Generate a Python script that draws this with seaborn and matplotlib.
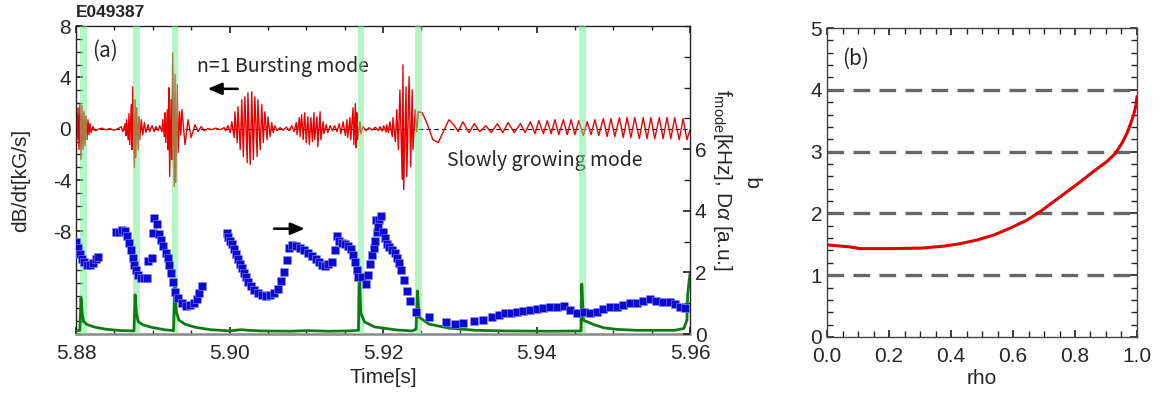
import numpy as np
import pandas as pd
import matplotlib
matplotlib.use("Agg")
import matplotlib.pyplot as plt
import seaborn as sns
from matplotlib.ticker import FixedLocator, MultipleLocator, FormatStrFormatter

# ---------------- data ----------------
T0 = 5.88  # s, time origin of the ms offsets below

# dB/dt trace (ms after T0, kG/s)
red_points = [
    (0.0, 0.86), (0.13, -0.86), (0.26, 1.63), (0.39, -1.63), (0.52, 1.95), (0.65, -2.41), (0.78, 1.79),
    (0.91, -1.63), (1.04, 1.32), (1.17, -1.32), (1.30, 1.01), (1.43, -0.86), (1.56, 0.70), (1.69, -0.47),
    (1.82, 0.39), (1.95, -0.31), (2.2, 0.16), (2.5, -0.16),
    (2.9, -0.04), (3.4, 0.04), (3.9, -0.08), (4.4, 0.0), (5.0, -0.12), (5.5, 0.0), (5.9, 0.16), (6.1, -0.23),
    (6.4, 0.39), (6.5, -0.55), (6.6, 0.70), (6.8, -0.86), (6.9, 1.17), (7.0, -1.24), (7.2, 1.87), (7.3, -1.63),
    (7.4, 3.27), (7.6, -3.03), (7.7, 2.26), (7.8, -2.26), (7.9, 1.63), (8.1, -1.63), (8.2, 0.93), (8.3, -0.86),
    (8.5, 0.70), (8.7, -0.47), (8.9, 0.47), (9.1, -0.31), (9.4, 0.31), (9.6, -0.23), (9.9, 0.23), (10.2, -0.23),
    (10.4, 0.16), (10.7, -0.16), (10.9, 0.23), (11.2, -0.23),
    (11.3, 0.70), (11.5, -0.62), (11.6, 1.24), (11.7, -1.09), (11.9, 1.48), (12.0, -1.63), (12.1, 3.19),
    (12.2, -3.73), (12.4, 2.26), (12.5, -2.41), (12.6, 5.91), (12.8, -4.51), (12.9, 4.20), (13.0, -4.20),
    (13.2, 3.42), (13.3, -1.87), (13.5, 1.32), (13.65, -0.5), (13.8, 1.48), (14.2, -1.24), (14.6, 0.70),
    (15.0, -0.70), (15.5, 0.31), (15.9, -0.23), (16.3, 0.16), (16.7, -0.16),
    (17.2, 0.0), (17.7, -0.08), (18.2, 0.04), (18.8, -0.08), (19.3, 0.08), (19.5, -0.16),
    (19.8, 0.23), (20.1, -0.31), (20.3, 0.54), (20.6, -0.70), (20.7, 1.32), (21.0, -1.09), (21.1, 1.71),
    (21.4, -1.63), (21.6, 2.26), (21.8, -2.18), (22.0, 2.49), (22.3, -2.65), (22.4, 2.80), (22.7, -2.80),
    (22.9, 2.88), (23.1, -2.41), (23.3, 2.49), (23.6, -2.18), (23.7, 2.26), (24.0, -1.63), (24.2, 1.87),
    (24.4, -1.09), (24.6, 1.32), (24.9, -0.86), (25.0, 0.93), (25.3, -0.62), (25.5, 0.47), (25.7, -0.31),
    (25.9, 0.23), (26.2, -0.16),
    (26.6, 0.08), (27.0, -0.12), (27.4, 0.12), (27.8, -0.16), (28.1, 0.23), (28.4, -0.23),
    (28.7, 0.47), (28.8, -0.47), (29.1, 0.86), (29.2, -0.62), (29.4, 1.09), (29.6, -0.86), (29.8, 1.24),
    (30.0, -1.09), (30.2, 0.93), (30.4, -1.24), (30.6, 0.86), (30.8, -1.01), (31.0, 1.24), (31.1, -0.86),
    (31.4, 0.93), (31.5, -1.40), (31.8, 1.32), (31.9, -0.86), (32.2, 0.54), (32.3, -0.39), (32.6, 0.31),
    (32.8, -0.31), (33.1, 0.23), (33.4, -0.16),
    (33.7, 0.23), (34.0, -0.23), (34.3, 0.39), (34.5, -0.39), (34.8, 0.54), (35.1, -0.54), (35.3, 0.70),
    (35.4, -0.70), (35.7, 0.86), (35.8, -0.86), (36.1, 1.63), (36.2, -1.24), (36.4, 1.95), (36.5, -1.48),
    (36.6, 1.24), (36.7, -0.86), (37.0, 0.54), (37.1, -0.39), (37.4, 0.16),
    (37.8, -0.16), (38.2, 0.08), (38.6, -0.12), (39.0, 0.12), (39.4, -0.16), (39.6, 0.16), (39.9, -0.19),
    (40.1, 0.23), (40.4, -0.27),
    (40.5, 0.31), (40.7, -0.31), (40.9, 0.54), (41.2, -0.62), (41.3, 0.86), (41.6, -1.01), (41.8, 1.48),
    (42.0, -1.63), (42.2, 3.03), (42.5, -3.97), (42.6, 4.98), (42.7, -4.75), (43.0, 3.27), (43.1, -3.73),
    (43.4, 4.05), (43.6, -2.96), (43.8, 3.03), (43.9, -1.63), (44.2, 1.48), (44.4, -0.23),
    (44.6, 1.32), (45.1, 1.24), (45.7, 0.47), (46.5, -0.86), (47.2, -1.09), (47.8, -0.31), (48.6, 0.70),
    (49.3, 0.23), (49.8, -0.23), (50.4, 0.54), (51.2, -0.31), (51.9, 0.39), (52.6, -0.23), (53.4, 0.23),
    (54.1, -0.31), (54.9, 0.39), (55.6, -0.31), (56.3, 0.47), (57.1, -0.31), (57.9, 0.39), (58.5, -0.31),
    (59.2, 0.54), (59.8, -0.39), (60.3, 0.62), (60.9, -0.39), (61.4, 0.62), (61.9, -0.39), (62.4, 0.70),
    (62.9, -0.47), (63.5, 0.70), (64.0, -0.47), (64.5, 0.70), (65.0, -0.47), (65.5, 0.62), (66.1, -0.54),
    (66.6, 0.54), (67.1, -0.47), (67.6, 0.70), (68.1, -0.54), (68.7, 0.78), (69.2, -0.62), (69.7, 0.78),
    (70.2, -0.62), (70.8, 0.86), (71.3, -0.70), (71.8, 0.86), (72.3, -0.70), (72.8, 0.86), (73.4, -0.78),
    (73.9, 0.86), (74.4, -0.78), (74.9, 0.86), (75.4, -0.78), (76.0, 0.86), (76.5, -0.78), (77.0, 0.86),
    (77.5, -0.78), (78.0, 0.86), (78.6, -0.86), (79.1, 0.78), (79.6, -0.86), (80.0, -0.08),
]

# mode frequency (ms after T0, kHz)
freq_points = [
    (0.0, 2.99), (0.26, 2.79), (0.52, 2.60), (0.78, 2.44), (1.04, 2.34), (1.43, 2.24), (1.82, 2.24),
    (2.2, 2.31), (2.6, 2.44), (2.9, 2.50),
    (5.2, 3.31), (5.6, 3.31), (6.0, 3.38), (6.4, 3.34), (6.6, 3.18), (6.9, 2.95), (7.2, 2.73), (7.4, 2.47),
    (7.6, 2.24), (7.8, 2.08), (8.1, 1.92), (8.5, 1.82), (8.9, 1.82), (9.3, 1.82),
    (9.4, 2.37), (9.9, 2.47),
    (10.0, 3.28), (10.2, 3.77), (10.6, 3.57), (10.8, 3.25), (11.1, 3.05), (11.3, 2.86), (11.7, 2.63),
    (12.0, 2.47), (12.1, 2.24), (12.4, 1.98), (12.6, 1.69), (12.9, 1.36), (13.3, 1.17), (13.8, 1.01),
    (14.3, 0.91), (14.9, 0.94), (15.4, 1.01), (15.8, 1.14), (16.0, 1.33), (16.4, 1.56),
    (19.7, 3.28), (19.8, 3.15), (20.1, 3.02), (20.3, 2.92), (20.6, 2.76), (20.8, 2.60), (21.1, 2.44),
    (21.4, 2.27), (21.6, 2.14), (21.9, 1.98), (22.2, 1.85), (22.4, 1.69), (22.8, 1.56), (23.2, 1.43),
    (23.7, 1.33), (24.2, 1.27), (24.8, 1.23), (25.3, 1.27), (25.8, 1.33), (26.3, 1.46), (26.7, 1.72),
    (27.1, 2.01), (27.5, 2.40), (27.8, 2.79), (28.1, 2.89), (28.7, 2.86), (29.2, 2.79), (29.7, 2.73),
    (30.2, 2.63), (30.8, 2.53), (31.3, 2.44), (31.7, 2.34), (32.1, 2.24), (32.5, 2.21), (32.8, 2.27),
    (33.4, 2.34), (33.7, 2.73), (34.0, 3.18), (34.3, 3.02), (34.7, 2.95), (35.1, 2.92), (35.4, 2.86),
    (35.8, 2.76), (36.1, 2.56), (36.4, 2.34), (36.6, 2.08), (36.7, 1.85),
    (37.3, 1.85), (37.8, 1.62), (38.0, 1.92), (38.3, 2.27), (38.6, 2.56), (38.8, 2.79), (39.0, 3.02),
    (39.2, 3.31), (39.1, 3.70), (39.5, 3.70), (39.7, 3.83), (39.3, 3.47), (40.0, 3.31), (40.3, 3.12),
    (40.5, 2.92), (40.8, 2.82), (41.2, 2.73), (41.6, 2.63), (41.8, 2.47), (42.1, 2.31), (42.3, 2.08),
    (42.7, 1.75), (43.1, 1.40), (43.5, 1.07), (44.3, 0.71), (46.0, 0.55), (48.2, 0.39), (49.4, 0.32),
    (50.4, 0.36), (51.9, 0.42), (53.0, 0.45), (54.2, 0.55), (55.1, 0.62), (55.9, 0.68), (56.7, 0.68),
    (57.5, 0.71), (58.2, 0.75), (59.2, 0.78), (60.1, 0.81), (60.9, 0.84), (61.8, 0.88), (62.7, 0.88),
    (63.6, 0.91), (64.4, 0.78), (65.3, 0.68), (66.2, 0.71), (67.0, 0.68), (67.9, 0.71), (68.7, 0.81),
    (69.6, 0.88), (70.5, 0.88), (71.3, 0.94), (72.2, 1.01), (73.1, 1.01), (73.9, 1.07), (74.8, 1.14),
    (75.6, 1.07), (76.5, 1.04), (77.4, 1.04), (78.0, 0.97), (78.7, 0.88), (79.4, 0.84),
]

# D-alpha trace (ms after T0, a.u.)
dalpha_points = [
    (0.0, 0.10), (0.5, 0.12), (0.65, 1.17), (0.8, 0.65), (1.0, 0.40), (1.5, 0.30), (2.5, 0.22), (4.0, 0.15),
    (6.0, 0.11), (7.55, 0.10), (7.7, 1.27), (7.85, 0.70), (8.1, 0.40), (8.7, 0.30), (9.8, 0.22), (11.5, 0.14),
    (12.7, 0.11), (12.9, 1.60), (13.05, 0.75), (13.4, 0.45), (14.2, 0.32), (15.5, 0.22), (17.5, 0.14),
    (20.0, 0.10), (21.5, 0.14), (22.5, 0.12), (24.0, 0.10), (28.0, 0.09), (30.0, 0.11), (33.0, 0.09),
    (35.5, 0.10), (36.8, 0.12), (36.9, 2.13), (37.1, 0.68), (37.6, 0.39), (38.9, 0.23), (41.8, 0.13),
    (43.8, 0.10), (44.3, 0.16), (44.5, 1.40), (44.7, 0.55), (46.0, 0.32), (48.6, 0.19), (52.0, 0.12),
    (56.0, 0.10), (62.0, 0.09), (65.8, 0.10), (65.9, 1.62), (66.1, 0.45), (67.5, 0.30), (68.8, 0.20),
    (70.5, 0.15), (73.0, 0.12), (78.0, 0.12), (79.2, 0.18), (79.6, 0.45), (79.7, 1.30), (80.0, 1.97),
]

# ELM times (ms after T0) marked by green bands
elm_ms = [1.0, 7.9, 12.9, 37.1, 44.6, 66.0]
band_half_ms = 0.42

# q profile
rho = [0.0, 0.07, 0.108, 0.215, 0.31, 0.376, 0.43, 0.484, 0.538, 0.59, 0.645, 0.688, 0.731, 0.774,
       0.817, 0.86, 0.903, 0.93, 0.952, 0.968, 0.978, 0.989, 0.997, 1.0]
q = [1.49, 1.46, 1.43, 1.43, 1.44, 1.47, 1.51, 1.57, 1.65, 1.76, 1.89, 2.03, 2.19, 2.35,
     2.51, 2.68, 2.84, 2.97, 3.14, 3.30, 3.43, 3.59, 3.76, 3.89]
q_rational = [1, 2, 3, 4]

# ---------------- style ----------------
sns.set_theme(style="ticks")
plt.rcParams["font.family"] = ["Liberation Sans", "DejaVu Sans"]
plt.rcParams["axes.unicode_minus"] = False
plt.rcParams["mathtext.fontset"] = "custom"
plt.rcParams["mathtext.rm"] = "Liberation Sans"
plt.rcParams["mathtext.it"] = "Liberation Sans:italic"
JP = ["Noto Sans CJK JP", "DejaVu Sans"]

red_df = pd.DataFrame(red_points, columns=["ms", "dB"])
red_df["t"] = T0 + red_df["ms"] / 1000
f_df = pd.DataFrame(freq_points, columns=["ms", "f"])
f_df["t"] = T0 + f_df["ms"] / 1000
d_df = pd.DataFrame(dalpha_points, columns=["ms", "d"])
d_df["t"] = T0 + d_df["ms"] / 1000
q_df = pd.DataFrame({"rho": rho, "q": q})

fig = plt.figure(figsize=(11.64, 4.0), dpi=100)
ax1 = fig.add_axes([0.0653, 0.165, 0.5275, 0.77])
ax2 = ax1.twinx()
axb = fig.add_axes([0.7105, 0.1575, 0.2663, 0.7725])

# ---------------- panel (a) ----------------
ax1.axhline(0, color="black", lw=0.8, ls=(0, (4, 3)), zorder=1)
sns.lineplot(data=red_df, x="t", y="dB", ax=ax1, color="#ee0000", lw=1.0,
             estimator=None, sort=False, zorder=2)
ax1.set_xlim(5.88, 5.96)
ax1.set_ylim(-16, 8)

for e in elm_ms:
    c = T0 + e / 1000
    ax2.axvspan(c - band_half_ms / 1000, c + band_half_ms / 1000, color="#66f08a", alpha=0.5,
                lw=0, zorder=1)
sns.lineplot(data=d_df, x="t", y="d", ax=ax2, color="#0f7a12", lw=2.0,
             estimator=None, sort=False, zorder=3)
sns.scatterplot(data=f_df, x="t", y="f", ax=ax2, color="#0a0ad2", marker="s", s=28,
                edgecolor="#8c8cf0", linewidth=0.4, zorder=4)
ax2.set_ylim(0, 10)
ax2.set_xlim(5.88, 5.96)

ax1.xaxis.set_major_locator(FixedLocator([5.88, 5.90, 5.92, 5.94, 5.96]))
ax1.xaxis.set_minor_locator(MultipleLocator(0.005))
ax1.xaxis.set_major_formatter(FormatStrFormatter("%.2f"))
ax1.yaxis.set_major_locator(FixedLocator([-8, -4, 0, 4, 8]))
ax1.yaxis.set_minor_locator(MultipleLocator(1))
ax2.yaxis.set_major_locator(FixedLocator([0, 2, 4, 6]))
ax2.yaxis.set_minor_locator(MultipleLocator(1))

ax1.tick_params(axis="both", which="both", direction="in", top=True, right=False)
ax1.tick_params(axis="x", which="major", length=5, labelsize=15, pad=7)
ax1.tick_params(axis="x", which="minor", length=3)
ax1.tick_params(axis="y", which="major", length=5, labelsize=15)
ax1.tick_params(axis="y", which="minor", length=4)
ax2.tick_params(axis="y", which="both", direction="in", labelsize=15)
ax2.tick_params(axis="y", which="major", length=5)
ax2.tick_params(axis="y", which="minor", length=4)

ax1.set_xlabel("Time[s]", fontsize=15, labelpad=4)
ax1.set_ylabel("dB/dt[kG/s]", fontsize=15, labelpad=16)
ax2.set_ylabel(r"f$_{\rm mode}$[kHz], D$\alpha$ [a.u.]", fontsize=15, rotation=270, labelpad=20)

for sp in ["left", "top", "right"]:
    ax1.spines[sp].set_color("#222222")
    ax1.spines[sp].set_linewidth(1.0)
ax1.spines["bottom"].set_color("#888888")
ax1.spines["bottom"].set_linewidth(1.8)
for sp in ax2.spines.values():
    sp.set_visible(False)

ax1.text(0.0, 1.02, "E049387", transform=ax1.transAxes, fontsize=12.5, fontweight="bold",
         ha="left", va="bottom")
ax1.text(0.027, 0.92, "(a)", transform=ax1.transAxes, fontsize=15, family=JP, va="center")
ax1.text(0.197, 0.87, "n=1 Bursting mode", transform=ax1.transAxes, fontsize=14, family=JP,
         va="center")
ax1.text(0.605, 0.562, "Slowly growing mode", transform=ax1.transAxes, fontsize=14, family=JP,
         va="center")
ax1.annotate("", xy=(0.21, 0.796), xytext=(0.268, 0.796), xycoords="axes fraction",
             arrowprops=dict(arrowstyle="-|>,head_length=0.7,head_width=0.3", color="black", lw=1.8))
ax1.annotate("", xy=(0.377, 0.342), xytext=(0.318, 0.342), xycoords="axes fraction",
             arrowprops=dict(arrowstyle="-|>,head_length=0.7,head_width=0.3", color="black", lw=1.8))

# ---------------- panel (b) ----------------
for qq in q_rational:
    axb.axhline(qq, xmin=0, xmax=0.985, color="#666666", lw=2.4, ls=(0, (5, 2.8)), zorder=1)
sns.lineplot(data=q_df, x="rho", y="q", ax=axb, color="#e00000", lw=2.2, estimator=None,
             sort=False, zorder=2)
axb.set_xlim(0, 1)
axb.set_ylim(0, 5)
axb.xaxis.set_major_locator(MultipleLocator(0.2))
axb.xaxis.set_minor_locator(MultipleLocator(0.05))
axb.xaxis.set_major_formatter(FormatStrFormatter("%.1f"))
axb.yaxis.set_major_locator(MultipleLocator(1))
axb.yaxis.set_minor_locator(MultipleLocator(0.2))
axb.tick_params(axis="both", which="both", direction="in", top=True, right=True)
axb.tick_params(axis="both", which="major", length=5, labelsize=15)
axb.tick_params(axis="both", which="minor", length=4)
axb.tick_params(axis="x", which="major", pad=7)
axb.set_xlabel("rho", fontsize=15, labelpad=2)
axb.set_ylabel("q", fontsize=15, labelpad=34)
for sp in axb.spines.values():
    sp.set_color("#444444")
    sp.set_linewidth(1.0)
axb.text(0.05, 0.9, "(b)", transform=axb.transAxes, fontsize=15, family=JP, va="center")

fig.savefig("out.png", dpi=100)
